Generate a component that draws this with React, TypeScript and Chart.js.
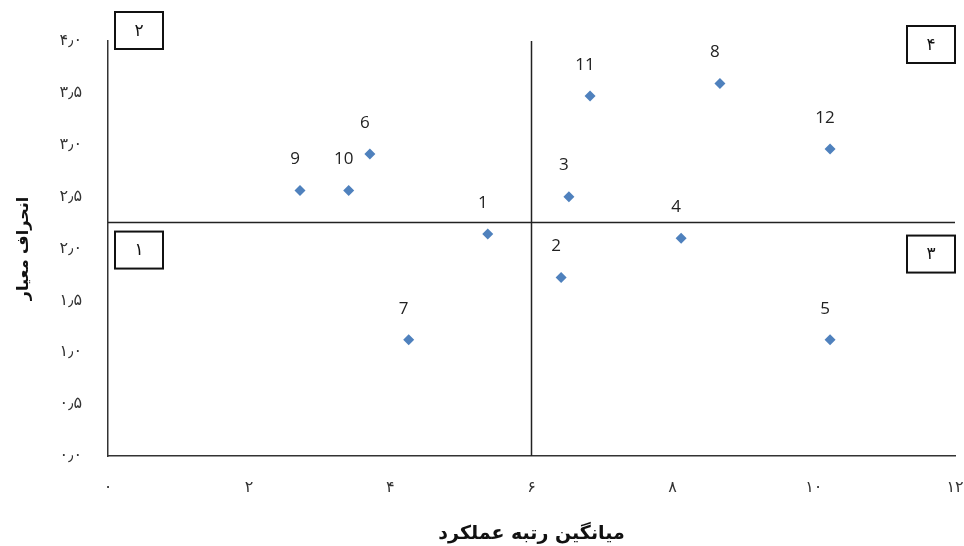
import React, { useEffect, useRef } from "react";
import { Chart, registerables } from "chart.js";

Chart.register(...registerables);

const pointNames = ["1", "2", "3", "4", "5", "6", "7", "8", "9", "10", "11", "12"];
const meanRank = [5.38, 6.42, 6.53, 8.12, 10.23, 3.71, 4.26, 8.67, 2.72, 3.41, 6.83, 10.23];
const stdDev = [2.14, 1.72, 2.5, 2.1, 1.12, 2.91, 1.12, 3.59, 2.56, 2.56, 3.47, 2.96];

const xTickLabels = ["۰", "۲", "۴", "۶", "۸", "۱۰", "۱۲"];
const yTickLabels = ["۰٫۰", "۰٫۵", "۱٫۰", "۱٫۵", "۲٫۰", "۲٫۵", "۳٫۰", "۳٫۵", "۴٫۰"];
const quadrantNames = ["۱", "۲", "۳", "۴"];
const splitX = 6;
const splitY = 2.25;

const xTitle = "میانگین رتبه عملکرد";
const yTitle = "انحراف معیار";

const quadrantPlugin = {
  id: "quadrants",
  afterDatasetsDraw(chart: any) {
    const { ctx, chartArea, scales } = chart;
    const xs = scales.x;
    const ys = scales.y;
    const px = xs.getPixelForValue(splitX);
    const py = ys.getPixelForValue(splitY);
    ctx.save();
    ctx.strokeStyle = "#222";
    ctx.lineWidth = 1.5;
    ctx.beginPath();
    ctx.moveTo(px, chartArea.top);
    ctx.lineTo(px, chartArea.bottom);
    ctx.moveTo(chartArea.left, py);
    ctx.lineTo(chartArea.right, py);
    ctx.stroke();

    const bw = 48;
    const bh = 37;
    const boxes = [
      { name: quadrantNames[0], x: chartArea.left + 7, y: py + 9 },
      { name: quadrantNames[1], x: chartArea.left + 7, y: chartArea.top - 29 },
      { name: quadrantNames[2], x: chartArea.right - bw, y: py + 13 },
      { name: quadrantNames[3], x: chartArea.right - bw, y: chartArea.top - 15 },
    ];
    ctx.lineWidth = 2;
    ctx.strokeStyle = "#111";
    ctx.font = "17px 'DejaVu Sans'";
    ctx.textAlign = "center";
    ctx.textBaseline = "middle";
    for (const b of boxes) {
      ctx.fillStyle = "#fff";
      ctx.fillRect(b.x, b.y, bw, bh);
      ctx.strokeRect(b.x, b.y, bw, bh);
      ctx.fillStyle = "#111";
      ctx.fillText(b.name, b.x + bw / 2, b.y + bh / 2 + 1);
    }

    const meta = chart.getDatasetMeta(0);
    ctx.font = "17px 'Open Sans'";
    ctx.fillStyle = "#222";
    meta.data.forEach((el: any, i: number) => {
      ctx.fillText(pointNames[i], el.x - 5, el.y - 31);
    });
    ctx.restore();
  },
};

export default function App() {
  const ref = useRef<HTMLCanvasElement | null>(null);
  useEffect(() => {
    if (!ref.current) return;
    const chart = new Chart(ref.current, {
      type: "scatter",
      data: {
        datasets: [
          {
            data: meanRank.map((x, i) => ({ x, y: stdDev[i] })),
            pointStyle: "rectRot",
            pointRadius: 5.5,
            pointHoverRadius: 5.5,
            backgroundColor: "#4F81BD",
            borderColor: "#4F81BD",
            borderWidth: 0,
          },
        ],
      },
      options: {
        animation: false,
        responsive: false,
        maintainAspectRatio: false,
        layout: { padding: { top: 41, right: 9, left: 0, bottom: 0 } },
        plugins: { legend: { display: false }, tooltip: { enabled: false } },
        scales: {
          x: {
            type: "linear",
            min: 0,
            max: 12,
            afterFit(scale: any) {
              scale.height = 90;
            },
            afterBuildTicks(scale: any) {
              scale.ticks = xTickLabels.map((_, i) => ({ value: i * 2 }));
            },
            ticks: {
              autoSkip: false,
              maxRotation: 0,
              padding: 0,
              color: "#333",
              font: { family: "'DejaVu Sans'", size: 16 },
              callback: (_v: any, i: number) => xTickLabels[i],
            },
            grid: { display: true, drawOnChartArea: false, drawTicks: true, tickLength: 22, color: "rgba(0,0,0,0)" },
            border: { display: true, color: "#333", width: 1.5 },
            title: {
              display: true,
              text: xTitle,
              color: "#111",
              font: { family: "'DejaVu Sans'", size: 19, weight: "bold" },
              padding: { top: 0, bottom: 1 },
            },
          },
          y: {
            type: "linear",
            min: 0,
            max: 4,
            afterFit(scale: any) {
              scale.width = 108;
            },
            afterBuildTicks(scale: any) {
              scale.ticks = yTickLabels.map((_, i) => ({ value: i * 0.5 }));
            },
            ticks: {
              autoSkip: false,
              padding: 0,
              color: "#333",
              font: { family: "'DejaVu Sans'", size: 16 },
              callback: (_v: any, i: number) => yTickLabels[i],
            },
            grid: { display: true, drawOnChartArea: false, drawTicks: true, tickLength: 26, color: "rgba(0,0,0,0)" },
            border: { display: true, color: "#333", width: 1.5 },
            title: {
              display: true,
              text: yTitle,
              color: "#111",
              font: { family: "'DejaVu Sans'", size: 16, weight: "bold" },
              padding: { top: 14, bottom: 0 },
            },
          },
        },
      },
      plugins: [quadrantPlugin],
    });
    return () => chart.destroy();
  }, []);
  return (
    <div style={{ position: "fixed", left: 0, top: 0, width: 964, height: 546, background: "#fff" }}>
      <canvas ref={ref} width={964} height={546} style={{ display: "block" }} />
    </div>
  );
}
